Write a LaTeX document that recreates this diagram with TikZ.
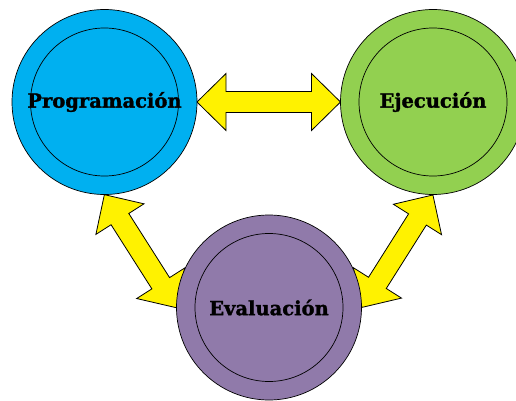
\documentclass[tikz,border=0pt]{standalone}
\usepackage{fontspec}
\setmainfont{DejaVu Serif}[BoldFeatures={FakeBold=1.5}]
\usetikzlibrary{backgrounds,positioning}

\definecolor{progblue}{HTML}{00B0F0}
\definecolor{ejecgreen}{HTML}{92D050}
\definecolor{evalpurple}{RGB}{144,122,170}

\tikzset{
  phase/.style={circle, draw=black, line width=0.7pt, minimum size=185pt, inner sep=0pt,
    font=\bfseries\fontsize{19.5}{22}\selectfont,
    path picture={\draw[line width=0.7pt] (path picture bounding box.center) circle (74pt);}},
  pics/dblarrow/.style={code={
    \draw[draw=black, line width=0.8pt, fill=yellow, line join=miter]
      ({-#1/2},0) -- ({-#1/2+29},28.5) -- ({-#1/2+29},10.5) -- ({#1/2-29},10.5)
      -- ({#1/2-29},28.5) -- ({#1/2},0) -- ({#1/2-29},-28.5) -- ({#1/2-29},-10.5)
      -- ({-#1/2+29},-10.5) -- ({-#1/2+29},-28.5) -- cycle;
  }}
}

\begin{document}
\begin{tikzpicture}[x=1pt, y=-1pt]
    \useasboundingbox (0,0) rectangle (516,401);

    % Phases
    \node[phase, fill=progblue] (prog) at (104.5,102) {Programación};
    \node[phase, fill=ejecgreen] (ejec) at (433,102) {Ejecución};
    \node[phase, fill=evalpurple] (eval) at (269,307.5) {Evaluación};

    % Block arrows between phases
    \begin{scope}[on background layer]
        \path (prog.east) -- (ejec.west) pic[midway, sloped] {dblarrow=143.5};
        \path (prog.south) -- (eval.west) pic[midway, sloped] {dblarrow=134};
        \path (ejec.south) -- (eval.east) pic[midway, sloped] {dblarrow=133};
    \end{scope}
\end{tikzpicture}
\end{document}
